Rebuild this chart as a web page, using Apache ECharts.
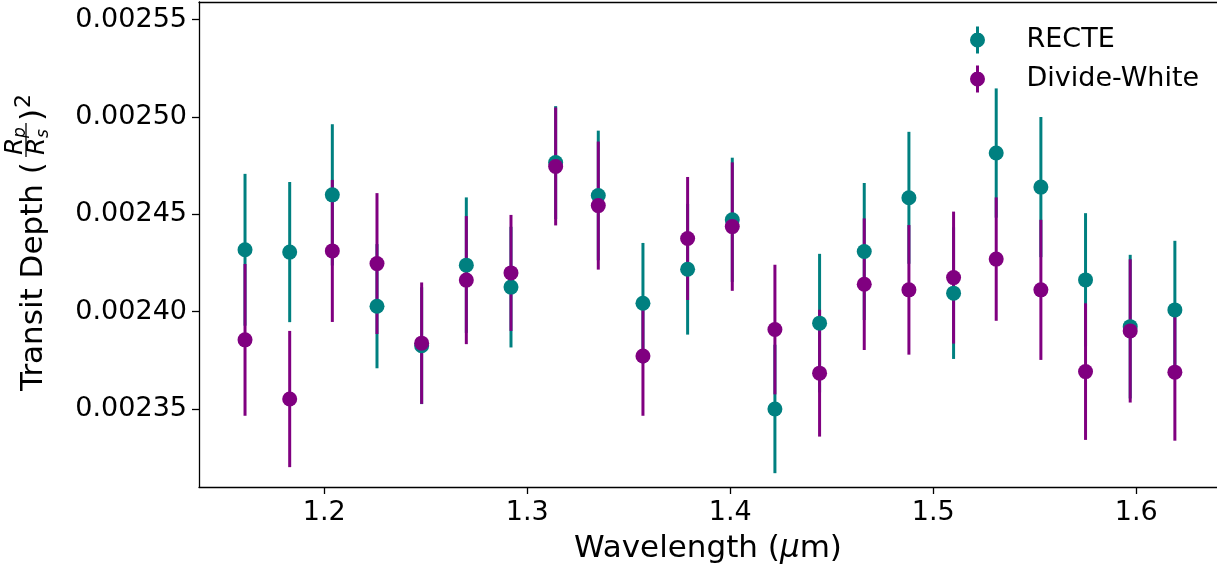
<!DOCTYPE html>
<html>
<head>
<meta charset="utf-8">
<script src="https://cdn.jsdelivr.net/npm/echarts@6/dist/echarts.min.js"></script>
<style>html,body{margin:0;padding:0;background:#fff}#chart{width:1217px;height:571px}</style>
</head>
<body>
<div id="chart"></div>
<script>
// Wavelength bins (micron)
const wavelengths = [1.161, 1.183, 1.204, 1.226, 1.248, 1.270, 1.292, 1.314, 1.335, 1.357, 1.379,
                     1.401, 1.422, 1.444, 1.466, 1.488, 1.510, 1.531, 1.553, 1.575, 1.597, 1.619];
// RECTE transit depths and 1-sigma errors
const recteDepth = [0.0024318, 0.0024306, 0.0024600, 0.0024028, 0.0023825, 0.0024239, 0.0024126, 0.0024766,
                    0.0024597, 0.0024043, 0.0024218, 0.0024472, 0.0023500, 0.0023941, 0.0024309, 0.0024585,
                    0.0024095, 0.0024815, 0.0024640, 0.0024163, 0.0023923, 0.0024009];
const recteErr = [0.0000390, 0.0000360, 0.0000363, 0.0000319, 0.0000300, 0.0000348, 0.0000310, 0.0000290,
                  0.0000333, 0.0000310, 0.0000336, 0.0000319, 0.0000330, 0.0000356, 0.0000352, 0.0000339,
                  0.0000338, 0.0000332, 0.0000360, 0.0000343, 0.0000369, 0.0000355];
// Divide-White transit depths and 1-sigma errors
const divideDepth = [0.0023855, 0.0023551, 0.0024312, 0.0024247, 0.0023838, 0.0024162, 0.0024199, 0.0024746,
                     0.0024545, 0.0023772, 0.0024376, 0.0024437, 0.0023908, 0.0023684, 0.0024141, 0.0024112,
                     0.0024175, 0.0024270, 0.0024112, 0.0023692, 0.0023901, 0.0023689];
const divideErr = [0.0000390, 0.0000350, 0.0000365, 0.0000362, 0.0000312, 0.0000329, 0.0000298, 0.0000303,
                   0.0000329, 0.0000307, 0.0000316, 0.0000330, 0.0000333, 0.0000326, 0.0000338, 0.0000333,
                   0.0000339, 0.0000317, 0.0000360, 0.0000351, 0.0000368, 0.0000352];
// Tick labels
const xTicks = [1.2, 1.3, 1.4, 1.5, 1.6];
const yTicks = [0.00235, 0.00240, 0.00245, 0.00250, 0.00255];

const TEAL = '#008080', PURPLE = '#800080';
const FONT = 'DejaVu Sans';
const XMIN = 1.13833, XMAX = 1.63975;

function pts(d) { return wavelengths.map((w, i) => [w, d[i]]); }
function bars(d, e) { return wavelengths.map((w, i) => [w, d[i] - e[i], d[i] + e[i]]); }
function errRender(color) {
  return function (params, api) {
    const p1 = api.coord([api.value(0), api.value(1)]);
    const p2 = api.coord([api.value(0), api.value(2)]);
    return { type: 'line', shape: { x1: p1[0], y1: p1[1], x2: p2[0], y2: p2[1] },
             style: { stroke: color, lineWidth: 3 } };
  };
}

const chart = echarts.init(document.getElementById('chart'), null, { renderer: 'canvas' });
const ICON = 'path://M6,0 H9 V27 H6 Z M15,13.5 A7.5,7.5 0 1 1 0,13.5 A7.5,7.5 0 1 1 15,13.5 Z';
const AX = { color: '#000', width: 1.3 };

chart.setOption({
  animation: false,
  backgroundColor: '#fff',
  textStyle: { fontFamily: FONT },
  grid: { left: 199, top: 2, right: 0, height: 485, outerBoundsMode: 'none', containLabel: false, show: false },
  legend: {
    data: ['RECTE', 'Divide-White'], orient: 'vertical', left: 965, top: 21.5,
    itemWidth: 88, itemHeight: 27, itemGap: 12, icon: ICON, symbolKeepAspect: true,
    textStyle: { fontSize: 27, color: '#000', fontFamily: FONT }, selectedMode: false
  },
  xAxis: [{
    type: 'value', min: XMIN, max: XMAX, position: 'bottom',
    name: 'Wavelength ({i|μ}m)', nameLocation: 'middle', nameGap: 46,
    nameTextStyle: { fontSize: 31, color: '#000', fontFamily: FONT, rich: { i: { fontSize: 31, fontStyle: 'italic', fontFamily: FONT, color: '#000' } } },
    axisLine: { show: true, onZero: false, lineStyle: AX },
    axisTick: { show: true, length: 7, customValues: xTicks, lineStyle: AX },
    axisLabel: { show: true, customValues: xTicks, fontSize: 27, color: '#000', fontFamily: FONT, margin: 12, formatter: v => v.toFixed(1) },
    splitLine: { show: false }
  }, {
    type: 'value', min: XMIN, max: XMAX, position: 'top',
    axisLine: { show: true, onZero: false, lineStyle: AX },
    axisTick: { show: false }, axisLabel: { show: false }, splitLine: { show: false }
  }],
  yAxis: {
    type: 'value', min: 0.0023099, max: 0.0025591,
    axisLine: { show: true, onZero: false, lineStyle: AX },
    axisTick: { show: true, length: 7, customValues: yTicks, lineStyle: AX },
    axisLabel: { show: true, customValues: yTicks, fontSize: 27, color: '#000', fontFamily: FONT, margin: 12, formatter: v => v.toFixed(5) },
    splitLine: { show: false }
  },
  graphic: [{
    type: 'group', x: 0, y: 391, rotation: Math.PI / 2,
    children: [
      { type: 'text', x: 0, y: 33.5, style: { text: 'Transit Depth (', fontSize: 31, fontFamily: FONT, fill: '#000', verticalAlign: 'middle', align: 'left' } },
      { type: 'line', shape: { x1: 234, y1: 26, x2: 268, y2: 26 }, style: { stroke: '#000', lineWidth: 1.3 } },
      { type: 'text', x: 236, y: 15, style: { text: 'R', fontSize: 25, fontStyle: 'italic', fontFamily: FONT, fill: '#000', verticalAlign: 'middle', align: 'left' } },
      { type: 'text', x: 253, y: 21, style: { text: 'p', fontSize: 17, fontStyle: 'italic', fontFamily: FONT, fill: '#000', verticalAlign: 'middle', align: 'left' } },
      { type: 'text', x: 236, y: 37.5, style: { text: 'R', fontSize: 25, fontStyle: 'italic', fontFamily: FONT, fill: '#000', verticalAlign: 'middle', align: 'left' } },
      { type: 'text', x: 253, y: 44, style: { text: 's', fontSize: 17, fontStyle: 'italic', fontFamily: FONT, fill: '#000', verticalAlign: 'middle', align: 'left' } },
      { type: 'text', x: 270, y: 33.5, style: { text: ')', fontSize: 31, fontFamily: FONT, fill: '#000', verticalAlign: 'middle', align: 'left' } },
      { type: 'text', x: 283, y: 24, style: { text: '2', fontSize: 22, fontFamily: FONT, fill: '#000', verticalAlign: 'middle', align: 'left' } }
    ]
  }],
  series: [
    { name: 'RECTE-err', type: 'custom', z: 1, silent: true, renderItem: errRender(TEAL), data: bars(recteDepth, recteErr), encode: { x: 0, y: [1, 2] } },
    { name: 'Divide-White-err', type: 'custom', z: 1, silent: true, renderItem: errRender(PURPLE), data: bars(divideDepth, divideErr), encode: { x: 0, y: [1, 2] } },
    { name: 'RECTE', type: 'scatter', z: 2, symbol: 'circle', symbolSize: 15, itemStyle: { color: TEAL, opacity: 1 }, data: pts(recteDepth) },
    { name: 'Divide-White', type: 'scatter', z: 3, symbol: 'circle', symbolSize: 15, itemStyle: { color: PURPLE, opacity: 1 }, data: pts(divideDepth) }
  ]
});
</script>
</body>
</html>
